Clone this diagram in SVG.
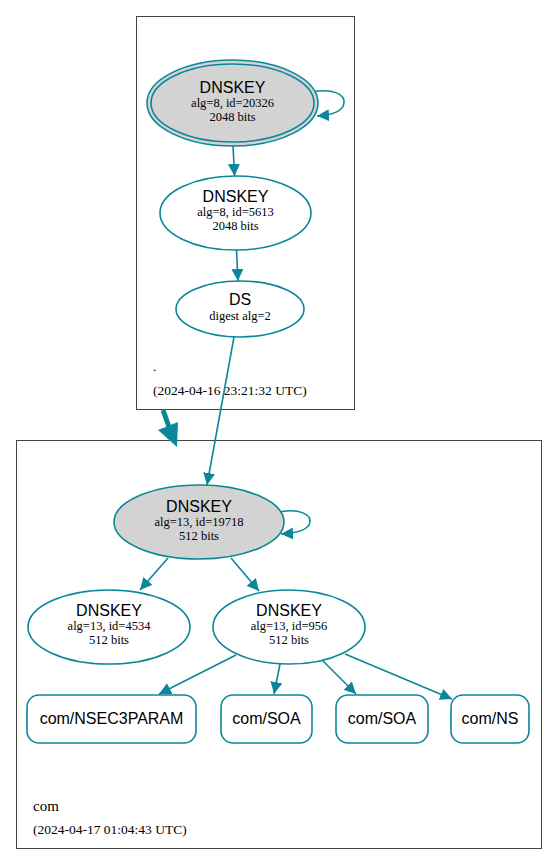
<svg xmlns="http://www.w3.org/2000/svg" width="557" height="865" viewBox="0 0 557 865">
<style>
.bg{fill:#ffffff}
.cl{fill:none;stroke:#444444;stroke-width:1}
.n{fill:#ffffff;stroke:#0a879a;stroke-width:1.6}
.k{fill:#d3d3d3;stroke:#0a879a;stroke-width:1.6}
.e{fill:none;stroke:#0a879a;stroke-width:1.6;marker-end:url(#ah)}
.t{font-family:"Liberation Sans",Arial,sans-serif;font-size:16px;fill:#000;text-anchor:middle}
.s{font-family:"Liberation Serif","Times New Roman",serif;font-size:12.5px;fill:#000;text-anchor:middle}
.l{font-family:"Liberation Serif","Times New Roman",serif;font-size:13.5px;fill:#000}
</style>
<defs>
<marker id="ah" markerUnits="userSpaceOnUse" markerWidth="14" markerHeight="12" refX="12" refY="6" orient="auto">
<path d="M0,0 L12,6 L0,12 Z" fill="#0a879a"/>
</marker>
</defs>
<rect class="bg" x="0" y="0" width="557" height="865"/>
<g id="cluster-root">
<rect class="cl" x="136.5" y="16.5" width="218" height="393"/>
<text class="l" x="153" y="371">.</text>
<text class="l" x="153" y="395">(2024-04-16 23:21:32 UTC)</text>
</g>
<g id="cluster-com">
<rect class="cl" x="16.5" y="440.5" width="525" height="408"/>
<text class="l" x="33" y="811" style="font-size:15px">com</text>
<text class="l" x="33" y="834">(2024-04-17 01:04:43 UTC)</text>
</g>
<g id="connectors">
<path class="e" d="M312,92 C332,88 345,94 344,103 C343,111 333,115 317,116"/>
<path class="e" d="M233,146 L234.6,176"/>
<path class="e" d="M236.5,250 L238,281"/>
<path class="e" d="M234,337 L207,485"/>
<path d="M163,410 L169,427" fill="none" stroke="#0a879a" stroke-width="5"/>
<polygon points="158,430 178,422 177,447" fill="#0a879a"/>
<path class="e" d="M280,512 C300,508 311,515 310,522 C309,529 300,533 281,534"/>
<path class="e" d="M168,558 L140,590"/>
<path class="e" d="M231,558 L259,591"/>
<path class="e" d="M236,655 L159,694"/>
<path class="e" d="M280,664 L274,694"/>
<path class="e" d="M322,660 L356,694"/>
<path class="e" d="M345,654 L452,699"/>
</g>
<g id="dnskey-20326">
<ellipse class="k" cx="232.5" cy="103" rx="85.5" ry="43"/>
<ellipse class="k" cx="232.5" cy="103" rx="81.5" ry="39"/>
<text class="t" x="232.5" y="93">DNSKEY</text>
<text class="s" x="232.5" y="107">alg=8, id=20326</text>
<text class="s" x="232.5" y="121">2048 bits</text>
</g>
<g id="dnskey-5613">
<ellipse class="n" cx="235.5" cy="213" rx="75.5" ry="37"/>
<text class="t" x="235.5" y="202">DNSKEY</text>
<text class="s" x="235.5" y="216">alg=8, id=5613</text>
<text class="s" x="235.5" y="230">2048 bits</text>
</g>
<g id="ds">
<ellipse class="n" cx="240" cy="309" rx="64" ry="28"/>
<text class="t" x="240" y="305">DS</text>
<text class="s" x="240" y="320">digest alg=2</text>
</g>
<g id="dnskey-19718">
<ellipse class="k" cx="199" cy="522" rx="85" ry="37"/>
<text class="t" x="199" y="512">DNSKEY</text>
<text class="s" x="199" y="526">alg=13, id=19718</text>
<text class="s" x="199" y="540">512 bits</text>
</g>
<g id="dnskey-4534">
<ellipse class="n" cx="109" cy="627" rx="81" ry="37"/>
<text class="t" x="109" y="616">DNSKEY</text>
<text class="s" x="109" y="630">alg=13, id=4534</text>
<text class="s" x="109" y="644">512 bits</text>
</g>
<g id="dnskey-956">
<ellipse class="n" cx="289" cy="627" rx="76" ry="37"/>
<text class="t" x="289" y="616">DNSKEY</text>
<text class="s" x="289" y="630">alg=13, id=956</text>
<text class="s" x="289" y="644">512 bits</text>
</g>
<g id="nsec3param">
<rect class="n" x="27" y="695" width="169" height="48" rx="12"/>
<text class="t" x="111.5" y="724">com/NSEC3PARAM</text>
</g>
<g id="soa-1">
<rect class="n" x="221" y="695" width="91" height="48" rx="12"/>
<text class="t" x="266.5" y="724">com/SOA</text>
</g>
<g id="soa-2">
<rect class="n" x="336" y="695" width="92" height="48" rx="12"/>
<text class="t" x="382" y="724">com/SOA</text>
</g>
<g id="ns">
<rect class="n" x="451" y="695" width="78" height="48" rx="12"/>
<text class="t" x="490" y="724">com/NS</text>
</g>
</svg>
